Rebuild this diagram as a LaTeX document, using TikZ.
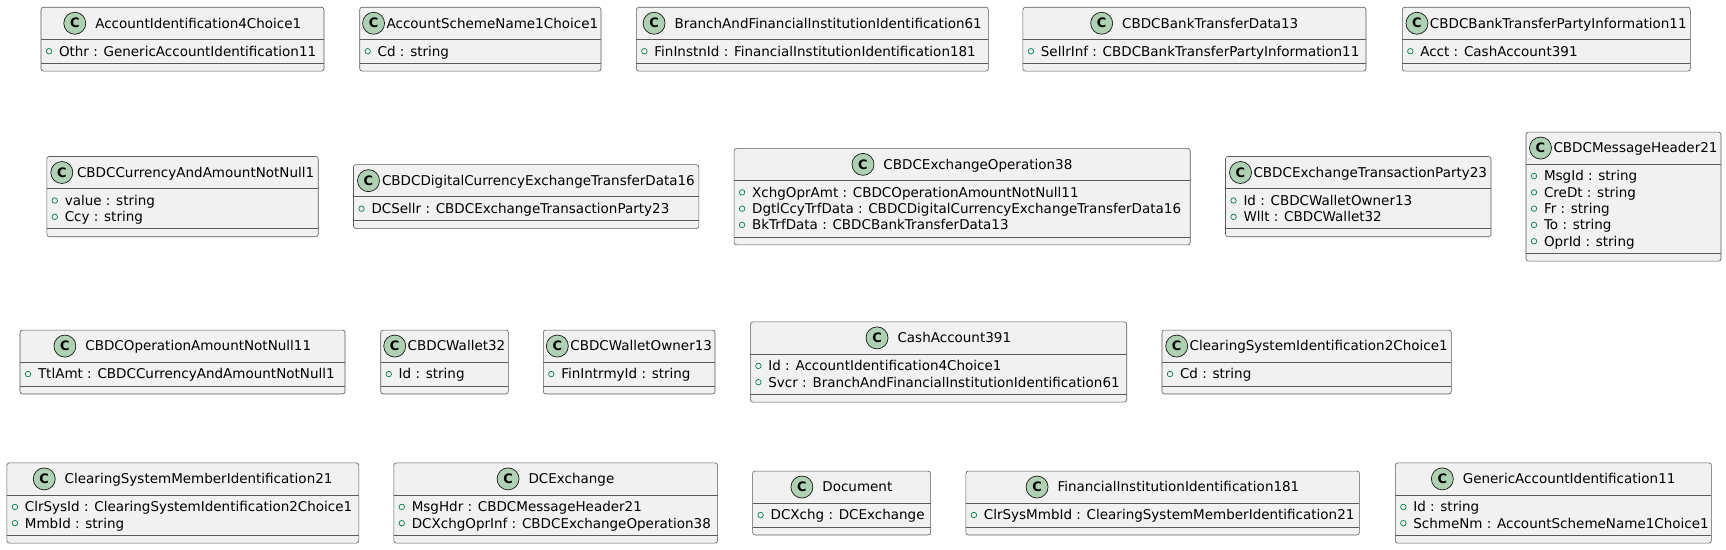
\documentclass[tikz,border=0pt]{standalone}
\usepackage{fontspec}
\setmainfont{DejaVu Sans}
\usetikzlibrary{calc}
\definecolor{uborder}{HTML}{181818}
\definecolor{ubox}{HTML}{5A5A5A}
\definecolor{ufill}{HTML}{F1F1F1}
\definecolor{ucirc}{HTML}{ADD1B2}
\definecolor{ugreen}{HTML}{038048}
\newcount\umlnat
\tikzset{
  clsbox/.style={draw=ubox, fill=ufill, line width=0.6pt, rounded corners=2.5pt, inner sep=0pt, outer sep=0pt},
  divline/.style={draw=ubox, line width=0.6pt},
  cmark/.style={circle, draw=uborder, fill=ucirc, line width=0.7pt, minimum size=22pt, inner sep=0pt, font=\fontsize{13}{13}\selectfont\bfseries},
  amark/.style={circle, draw=ugreen, line width=0.7pt, minimum size=5.5pt, inner sep=0pt},
  ttext/.style={inner sep=0pt, outer sep=0pt, anchor=base west, font=\fontsize{13.5}{16}\selectfont},
}
\newcommand\umlcls[6]{%
  \pgfmathsetmacro\umlL{#2}%
  \pgfmathsetmacro\umlR{#3}%
  \global\umlnat=0
  \foreach \a in {#6}{\global\advance\umlnat by 1}%
  \pgfmathsetmacro\umlH{32+7.6+16.3*\the\umlnat+8}%
  \pgfmathsetmacro\umlT{#4-\umlH/2}%
  \pgfmathsetmacro\umlW{\umlR-\umlL}%
  \node[clsbox, minimum width=\umlW pt, minimum height=\umlH pt, anchor=north west] (#1) at (\umlL,\umlT) {};
  \draw[divline] (\umlL,\umlT+32) -- (\umlR,\umlT+32);
  \pgfmathsetmacro\umlD{\umlT+32+7.6+16.3*\the\umlnat}%
  \draw[divline] (\umlL,\umlD) -- (\umlR,\umlD);
  \node[ttext] (#1w) at (\umlL,\umlT+20) {\phantom{#5}};
  \path let \p1=($(#1w.east)-(#1w.west)$) in \pgfextra{\pgfmathsetmacro\umltwv{\x1}\xdef\umltwg{\umltwv}};
  \pgfmathsetmacro\umlG{max(2,min(9.5,\umlW-8-22-\umltwg))}%
  \pgfmathsetmacro\umlS{(\umlL+\umlR)/2-(22+\umlG+\umltwg)/2}%
  \node[cmark] (#1c) at (\umlS+11,\umlT+16) {C};
  \node[ttext] (#1t) at (\umlS+22+\umlG,\umlT+16+4.8) {#5};
  \foreach \a [count=\i from 0] in {#6}{%
    \pgfmathsetmacro\umly{\umlT+32+12+16.3*\i}%
    \node[amark] (#1m\i) at (\umlL+8,\umly) {};
    \node[ttext] (#1a\i) at (\umlL+18,\umly+4.8) {\a};
  }%
}
\begin{document}
\begin{tikzpicture}[x=1pt,y=-1pt]
\fill[white] (0,0) rectangle (1726,549);
\useasboundingbox (0,0) rectangle (1726,549);
% row 1
\umlcls{c1}{41}{324}{39.2}{AccountIdentification4Choice1}{Othr : GenericAccountIdentification11}
\umlcls{c2}{359.7}{601}{39.2}{AccountSchemeName1Choice1}{Cd : string}
\umlcls{c3}{636.4}{988.4}{39.2}{BranchAndFinancialInstitutionIdentification61}{FinInstnId : FinancialInstitutionIdentification181}
\umlcls{c4}{1022.9}{1366}{39.2}{CBDCBankTransferData13}{SellrInf : CBDCBankTransferPartyInformation11}
\umlcls{c5}{1402.3}{1690.3}{39.2}{CBDCBankTransferPartyInformation11}{Acct : CashAccount391}
% row 2
\umlcls{c6}{46.8}{318.2}{196.6}{CBDCCurrencyAndAmountNotNull1}{value : string, Ccy : string}
\umlcls{c7}{353.5}{698.8}{196.6}{CBDCDigitalCurrencyExchangeTransferData16}{DCSellr : CBDCExchangeTransactionParty23}
\umlcls{c8}{734.1}{1190.2}{196.6}{CBDCExchangeOperation38}{XchgOprAmt : CBDCOperationAmountNotNull11, DgtlCcyTrfData : CBDCDigitalCurrencyExchangeTransferData16, BkTrfData : CBDCBankTransferData13}
\umlcls{c9}{1225.5}{1491}{196.6}{CBDCExchangeTransactionParty23}{Id : CBDCWalletOwner13, Wllt : CBDCWallet32}
\umlcls{c10}{1526}{1721}{196.6}{CBDCMessageHeader21}{MsgId : string, CreDt : string, Fr : string, To : string, OprId : string}
% row 3
\umlcls{c11}{20}{345}{362}{CBDCOperationAmountNotNull11}{TtlAmt : CBDCCurrencyAndAmountNotNull1}
\umlcls{c12}{380.7}{508.3}{362}{CBDCWallet32}{Id : string}
\umlcls{c13}{543.3}{715}{362}{CBDCWalletOwner13}{FinIntrmyId : string}
\umlcls{c14}{750.4}{1126.7}{362}{CashAccount391}{Id : AccountIdentification4Choice1, Svcr : BranchAndFinancialInstitutionIdentification61}
\umlcls{c15}{1162}{1451.3}{362}{ClearingSystemIdentification2Choice1}{Cd : string}
% row 4
\umlcls{c16}{6.9}{358.8}{503}{ClearingSystemMemberIdentification21}{ClrSysId : ClearingSystemIdentification2Choice1, MmbId : string}
\umlcls{c17}{393.8}{717.6}{503}{DCExchange}{MsgHdr : CBDCMessageHeader21, DCXchgOprInf : CBDCExchangeOperation38}
\umlcls{c18}{752.6}{930.6}{503}{Document}{DCXchg : DCExchange}
\umlcls{c19}{965.9}{1359.4}{503}{FinancialInstitutionIdentification181}{ClrSysMmbId : ClearingSystemMemberIdentification21}
\umlcls{c20}{1395.3}{1711.4}{503}{GenericAccountIdentification11}{Id : string, SchmeNm : AccountSchemeName1Choice1}
\end{tikzpicture}
\end{document}
